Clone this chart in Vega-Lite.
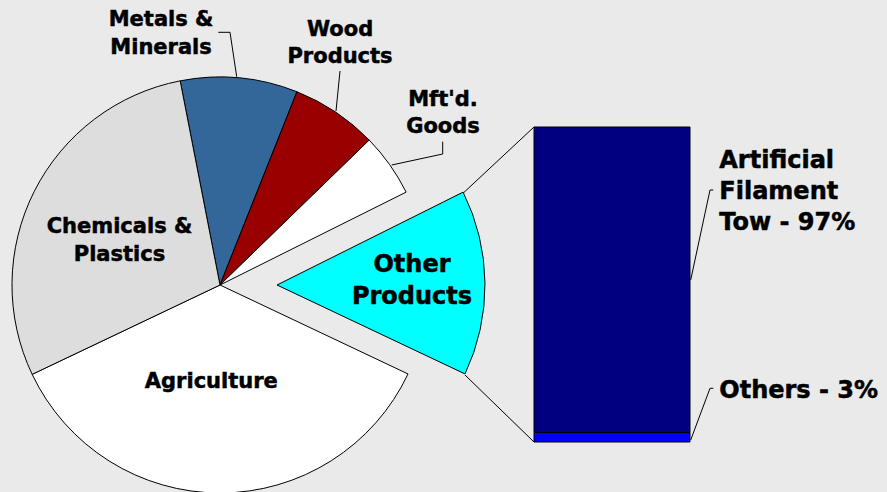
{
  "$schema": "https://vega.github.io/schema/vega-lite/v6.json",
  "width": 887,
  "height": 492,
  "autosize": {"type": "none"},
  "padding": 0,
  "background": "#EAEAEA",
  "config": {"view": {"stroke": null}, "text": {"stroke": "black", "strokeWidth": 0.5}, "rule": {"color": "black", "strokeWidth": 1}},
  "datasets": {
    "pie": [
      {"category": "Metals & Minerals", "label": "Metals &\nMinerals", "pct": 9.1, "idx": 1},
      {"category": "Wood Products", "label": "Wood\nProducts", "pct": 6.7, "idx": 2},
      {"category": "Mft'd. Goods", "label": "Mft'd.\nGoods", "pct": 4.9, "idx": 3},
      {"category": "Other Products", "label": "Other\nProducts", "pct": 14.4, "idx": 4},
      {"category": "Agriculture", "label": "Agriculture", "pct": 35.9, "idx": 5},
      {"category": "Chemicals & Plastics", "label": "Chemicals &\nPlastics", "pct": 29.0, "idx": 6}
    ],
    "bar": [
      {"group": "Other Products", "part": "Others", "label": "Others - 3%", "pct": 3, "idx": 1},
      {"group": "Other Products", "part": "Artificial Filament Tow", "label": "Artificial\nFilament\nTow - 97%", "pct": 97, "idx": 2}
    ],
    "one": [{"note": "connector"}]
  },
  "layer": [
    {
      "data": {"name": "pie"},
      "mark": {"type": "arc", "x": 220, "y": 285, "outerRadius": 208, "stroke": "black", "strokeWidth": 1},
      "encoding": {
        "theta": {"field": "pct", "type": "quantitative", "stack": true, "scale": {"domain": [0, 100], "range": [-0.1927, 6.0905]}},
        "order": {"field": "idx", "type": "quantitative"},
        "color": {"field": "category", "type": "nominal", "legend": null,
          "scale": {"domain": ["Metals & Minerals", "Wood Products", "Mft'd. Goods", "Other Products", "Agriculture", "Chemicals & Plastics", "Artificial Filament Tow", "Others"],
                    "range": ["#336699", "#990000", "#FFFFFF", "#00FFFF", "#FFFFFF", "#DDDDDD", "#000080", "#0000FF"]}},
        "opacity": {"condition": {"test": "datum.idx === 4", "value": 0}, "value": 1}
      }
    },
    {
      "data": {"name": "pie"},
      "mark": {"type": "arc", "x": 277, "y": 285, "outerRadius": 208, "stroke": "black", "strokeWidth": 1},
      "encoding": {
        "theta": {"field": "pct", "type": "quantitative", "stack": true},
        "order": {"field": "idx", "type": "quantitative"},
        "color": {"field": "category", "type": "nominal", "legend": null},
        "opacity": {"condition": {"test": "datum.idx === 4", "value": 1}, "value": 0}
      }
    },
    {
      "data": {"name": "bar"},
      "mark": {"type": "bar", "stroke": "black", "strokeWidth": 1},
      "encoding": {
        "x": {"field": "group", "type": "nominal", "axis": null, "scale": {"range": [534, 690], "paddingInner": 0, "paddingOuter": 0}},
        "y": {"field": "pct", "type": "quantitative", "stack": "zero", "axis": null, "scale": {"domain": [0, 100], "range": [442, 127], "nice": false, "zero": false}},
        "order": {"field": "idx", "type": "quantitative"},
        "color": {"field": "part", "type": "nominal", "legend": null}
      }
    },
    {"data": {"name": "one"}, "mark": "rule", "encoding": {"x": {"value": 236.7}, "y": {"value": 76.7}, "x2": {"value": 230}, "y2": {"value": 32.3}}},
    {"data": {"name": "one"}, "mark": "rule", "encoding": {"x": {"value": 230}, "y": {"value": 32.3}, "x2": {"value": 218.3}, "y2": {"value": 32.3}}},
    {"data": {"name": "one"}, "mark": "rule", "encoding": {"x": {"value": 336}, "y": {"value": 111}, "x2": {"value": 340}, "y2": {"value": 71}}},
    {"data": {"name": "one"}, "mark": "rule", "encoding": {"x": {"value": 391.7}, "y": {"value": 165}, "x2": {"value": 442.7}, "y2": {"value": 154}}},
    {"data": {"name": "one"}, "mark": "rule", "encoding": {"x": {"value": 442.7}, "y": {"value": 154}, "x2": {"value": 442.7}, "y2": {"value": 141.7}}},
    {"data": {"name": "one"}, "mark": "rule", "encoding": {"x": {"value": 463.3}, "y": {"value": 193}, "x2": {"value": 534}, "y2": {"value": 127}}},
    {"data": {"name": "one"}, "mark": "rule", "encoding": {"x": {"value": 465}, "y": {"value": 375}, "x2": {"value": 534}, "y2": {"value": 442}}},
    {"data": {"name": "one"}, "mark": "rule", "encoding": {"x": {"value": 690.7}, "y": {"value": 280}, "x2": {"value": 710}, "y2": {"value": 190}}},
    {"data": {"name": "one"}, "mark": "rule", "encoding": {"x": {"value": 710}, "y": {"value": 190}, "x2": {"value": 713.3}, "y2": {"value": 190}}},
    {"data": {"name": "one"}, "mark": "rule", "encoding": {"x": {"value": 690.7}, "y": {"value": 440}, "x2": {"value": 710}, "y2": {"value": 388.3}}},
    {"data": {"name": "one"}, "mark": "rule", "encoding": {"x": {"value": 710}, "y": {"value": 388.3}, "x2": {"value": 713.3}, "y2": {"value": 388.3}}},
    {
      "data": {"name": "pie"},
      "mark": {"type": "text", "x": 220, "y": 285, "radius": 240, "dx": -81.3, "dy": -20, "align": "center", "baseline": "alphabetic", "font": "DejaVu Sans", "fontWeight": "bold", "fontSize": 21, "lineBreak": "\n", "lineHeight": 28, "color": "black"},
      "encoding": {
        "theta": {"field": "pct", "type": "quantitative", "stack": true},
        "order": {"field": "idx", "type": "quantitative"},
        "text": {"condition": {"test": "datum.idx === 1", "field": "label", "type": "nominal"}, "value": ""}
      }
    },
    {
      "data": {"name": "pie"},
      "mark": {"type": "text", "x": 220, "y": 285, "radius": 240, "dx": -13.4, "dy": -49.5, "align": "center", "baseline": "alphabetic", "font": "DejaVu Sans", "fontWeight": "bold", "fontSize": 21, "lineBreak": "\n", "lineHeight": 27, "color": "black"},
      "encoding": {
        "theta": {"field": "pct", "type": "quantitative", "stack": true},
        "order": {"field": "idx", "type": "quantitative"},
        "text": {"condition": {"test": "datum.idx === 2", "field": "label", "type": "nominal"}, "value": ""}
      }
    },
    {
      "data": {"name": "pie"},
      "mark": {"type": "text", "x": 220, "y": 285, "radius": 240, "dx": 27.2, "dy": -40.2, "align": "center", "baseline": "alphabetic", "font": "DejaVu Sans", "fontWeight": "bold", "fontSize": 21, "lineBreak": "\n", "lineHeight": 27, "color": "black"},
      "encoding": {
        "theta": {"field": "pct", "type": "quantitative", "stack": true},
        "order": {"field": "idx", "type": "quantitative"},
        "text": {"condition": {"test": "datum.idx === 3", "field": "label", "type": "nominal"}, "value": ""}
      }
    },
    {
      "data": {"name": "pie"},
      "mark": {"type": "text", "x": 277, "y": 285, "radius": 130, "dx": 5, "dy": -11.9, "align": "center", "baseline": "alphabetic", "font": "DejaVu Sans", "fontWeight": "bold", "fontSize": 24, "lineBreak": "\n", "lineHeight": 32, "color": "black"},
      "encoding": {
        "theta": {"field": "pct", "type": "quantitative", "stack": true},
        "order": {"field": "idx", "type": "quantitative"},
        "text": {"condition": {"test": "datum.idx === 4", "field": "label", "type": "nominal"}, "value": ""}
      }
    },
    {
      "data": {"name": "pie"},
      "mark": {"type": "text", "x": 220, "y": 285, "radius": 100, "dx": -8.8, "dy": 3.3, "align": "center", "baseline": "alphabetic", "font": "DejaVu Sans", "fontWeight": "bold", "fontSize": 21, "lineBreak": "\n", "lineHeight": 28, "color": "black"},
      "encoding": {
        "theta": {"field": "pct", "type": "quantitative", "stack": true},
        "order": {"field": "idx", "type": "quantitative"},
        "text": {"condition": {"test": "datum.idx === 5", "field": "label", "type": "nominal"}, "value": ""}
      }
    },
    {
      "data": {"name": "pie"},
      "mark": {"type": "text", "x": 220, "y": 285, "radius": 110, "dx": -2.3, "dy": -2.8, "align": "center", "baseline": "alphabetic", "font": "DejaVu Sans", "fontWeight": "bold", "fontSize": 21, "lineBreak": "\n", "lineHeight": 28, "color": "black"},
      "encoding": {
        "theta": {"field": "pct", "type": "quantitative", "stack": true},
        "order": {"field": "idx", "type": "quantitative"},
        "text": {"condition": {"test": "datum.idx === 6", "field": "label", "type": "nominal"}, "value": ""}
      }
    },
    {
      "data": {"name": "bar"},
      "mark": {"type": "text", "dx": 29.3, "dy": -112.1, "align": "left", "baseline": "alphabetic", "font": "DejaVu Sans", "fontWeight": "bold", "fontSize": 24, "lineBreak": "\n", "lineHeight": 31, "color": "black"},
      "encoding": {
        "x": {"field": "group", "type": "nominal", "bandPosition": 1},
        "y": {"field": "pct", "type": "quantitative", "stack": "zero", "bandPosition": 0.5},
        "order": {"field": "idx", "type": "quantitative"},
        "text": {"condition": {"test": "datum.idx === 2", "field": "label", "type": "nominal"}, "value": ""}
      }
    },
    {
      "data": {"name": "bar"},
      "mark": {"type": "text", "dx": 29.3, "dy": -39.3, "align": "left", "baseline": "alphabetic", "font": "DejaVu Sans", "fontWeight": "bold", "fontSize": 24, "lineBreak": "\n", "lineHeight": 31, "color": "black"},
      "encoding": {
        "x": {"field": "group", "type": "nominal", "bandPosition": 1},
        "y": {"field": "pct", "type": "quantitative", "stack": "zero", "bandPosition": 0.5},
        "order": {"field": "idx", "type": "quantitative"},
        "text": {"condition": {"test": "datum.idx === 1", "field": "label", "type": "nominal"}, "value": ""}
      }
    }
  ]
}
